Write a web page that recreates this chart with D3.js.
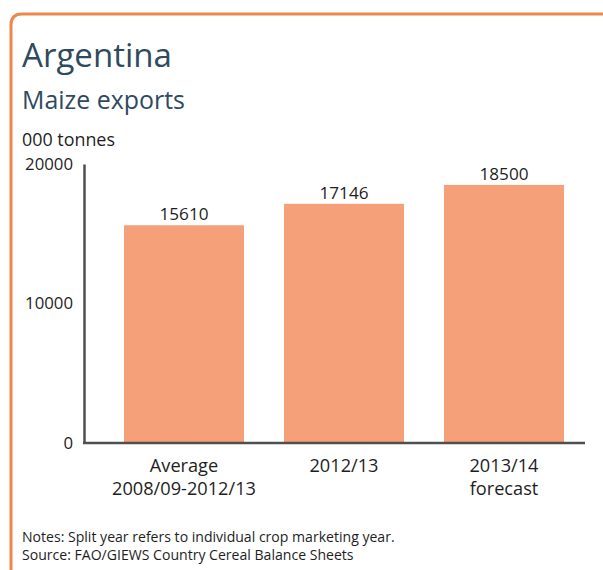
<!DOCTYPE html>
<html>
<head>
<meta charset="utf-8">
<script src="https://cdn.jsdelivr.net/npm/d3@7"></script>
<style>
  html, body { margin: 0; padding: 0; background: #ffffff; }
  svg { display: block; }
  text { font-family: "Open Sans", "Noto Sans", sans-serif; }
</style>
</head>
<body>
<svg id="chart" width="603" height="570"></svg>
<script>
// ---- data ----
const categories = [["Average", "2008/09-2012/13"], ["2012/13"], ["2013/14", "forecast"]];
const values = [15610, 17146, 18500];
const yTicks = [0, 10000, 20000];
const title = "Argentina";
const subtitle = "Maize exports";
const unitLabel = "000 tonnes";
const notes = ["Notes: Split year refers to individual crop marketing year.",
               "Source: FAO/GIEWS Country Cereal Balance Sheets"];

// ---- setup ----
const svg = d3.select("#chart");
const W = 603, H = 570;

// fit font size of a text selection so it spans a target width
function fitSize(sel, target) {
  const len = sel.node().getComputedTextLength();
  const fs = parseFloat(sel.attr("font-size"));
  const nfs = fs * target / len;
  sel.attr("font-size", nfs);
  return nfs;
}
function measureSize(str, base, target, weight) {
  const t = svg.append("text").attr("font-size", base).attr("font-weight", weight || 400).text(str);
  const fs = fitSize(t, target);
  t.remove();
  return fs;
}

// frame
svg.append("path")
  .attr("d", "M11,580 L11,25 Q11,14 22,14 L615,14")
  .attr("fill", "none")
  .attr("stroke", "#f0874a")
  .attr("stroke-width", 3);

// titles
const tTitle = svg.append("text").attr("x", 22).attr("y", 67)
  .attr("font-size", 30).attr("fill", "#2f4a5e").text(title);
fitSize(tTitle, 150);

const tSub = svg.append("text").attr("x", 22).attr("y", 109)
  .attr("font-size", 22).attr("fill", "#2f4a5e").text(subtitle);
fitSize(tSub, 163);

const tUnit = svg.append("text").attr("x", 22).attr("y", 146)
  .attr("font-size", 15).attr("fill", "#1e1e1e").text(unitLabel);
fitSize(tUnit, 93);

// scales
const y = d3.scaleLinear().domain([0, 20000]).range([443, 164]);
const x = d3.scaleBand().domain(d3.range(values.length))
  .range([104, 584]).paddingInner(0.25).paddingOuter(0.125);

const axisX0 = 84, axisX1 = 585;
const axisColor = "#4f4f4f";

// bars
svg.append("g").selectAll("rect").data(values).join("rect")
  .attr("x", (d, i) => x(i))
  .attr("y", d => y(d))
  .attr("width", x.bandwidth())
  .attr("height", d => y(0) - y(d))
  .attr("fill", "#f5a079");

// y axis
const tickFs = measureSize("20000", 15, 48);
const yAxis = svg.append("g").attr("transform", `translate(${axisX0},0)`)
  .call(d3.axisLeft(y).tickValues(yTicks).tickFormat(d3.format("d")).tickSize(0).tickPadding(11));
yAxis.select(".domain").attr("stroke", axisColor).attr("stroke-width", 2.5);
yAxis.selectAll("text").attr("font-size", tickFs).attr("fill", "#1e1e1e")
  .attr("font-family", '"Open Sans", "Noto Sans", sans-serif');

// x axis line
svg.append("line")
  .attr("x1", axisX0 - 1).attr("x2", axisX1)
  .attr("y1", y(0)).attr("y2", y(0))
  .attr("stroke", axisColor).attr("stroke-width", 2.5);

// value labels
const valFs = measureSize("15610", 15, 49);
svg.append("g").selectAll("text").data(values).join("text")
  .attr("x", (d, i) => x(i) + x.bandwidth() / 2)
  .attr("y", d => y(d) - 5)
  .attr("text-anchor", "middle")
  .attr("font-size", valFs)
  .attr("fill", "#1e1e1e")
  .text(d => d);

// category labels
const catFs = measureSize("2008/09-2012/13", 15, 144);
const catG = svg.append("g").selectAll("text").data(categories).join("text")
  .attr("x", (d, i) => x(i) + x.bandwidth() / 2)
  .attr("y", 472)
  .attr("text-anchor", "middle")
  .attr("font-size", catFs)
  .attr("fill", "#1e1e1e");
catG.selectAll("tspan").data(d => d).join("tspan")
  .attr("x", function () { return d3.select(this.parentNode).attr("x"); })
  .attr("dy", (d, i) => i === 0 ? 0 : 23)
  .text(d => d);

// notes
const noteFs = measureSize(notes[0], 12, 373);
svg.append("g").selectAll("text").data(notes).join("text")
  .attr("x", 22)
  .attr("y", (d, i) => 542 + i * 18)
  .attr("font-size", noteFs)
  .attr("fill", "#1e1e1e")
  .text(d => d);
</script>
</body>
</html>
